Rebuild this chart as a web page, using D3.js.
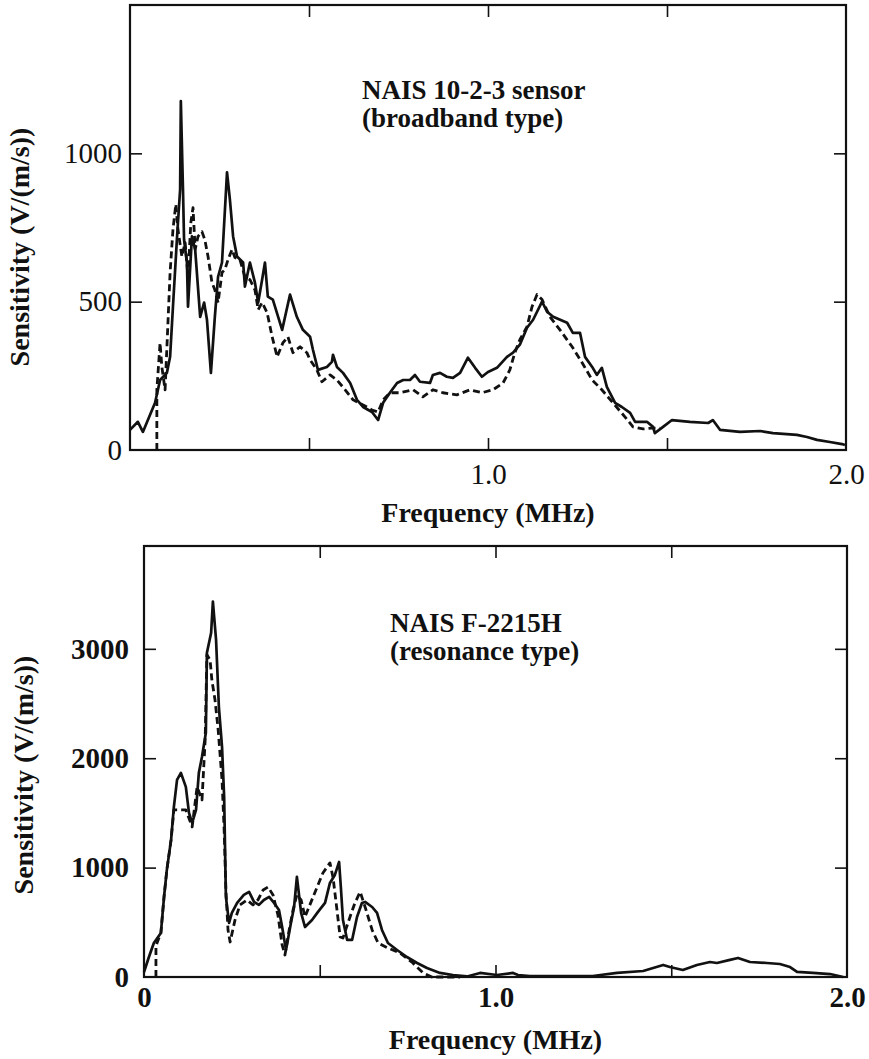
<!DOCTYPE html>
<html>
<head>
<meta charset="utf-8">
<script src="https://cdn.jsdelivr.net/npm/d3@7"></script>
<style>
  body { margin: 0; background: #fff; }
  svg text { font-family: "Liberation Serif", "Times New Roman", serif; fill: #111; }
</style>
</head>
<body>
<script>
// [frequency MHz, sensitivity V/(m/s)]
const broadbandSolid = [[0.000,68],[0.022,95],[0.036,61],[0.070,159],[0.084,236],[0.103,260],[0.112,314],[0.120,483],[0.131,709],[0.134,767],[0.140,878],[0.142,1176],[0.148,878],[0.151,709],[0.159,632],[0.162,483],[0.173,720],[0.182,676],[0.196,449],[0.207,497],[0.215,439],[0.226,260],[0.237,449],[0.246,584],[0.257,632],[0.271,936],[0.279,845],[0.288,720],[0.299,652],[0.316,632],[0.321,551],[0.335,632],[0.349,564],[0.358,497],[0.369,574],[0.377,632],[0.385,517],[0.399,507],[0.425,405],[0.447,524],[0.466,449],[0.483,405],[0.503,382],[0.511,338],[0.525,270],[0.550,280],[0.564,297],[0.567,321],[0.578,280],[0.595,260],[0.615,226],[0.634,169],[0.651,145],[0.676,128],[0.693,101],[0.707,159],[0.726,193],[0.746,226],[0.763,236],[0.782,236],[0.796,253],[0.810,230],[0.838,226],[0.846,253],[0.866,260],[0.885,247],[0.902,243],[0.922,260],[0.944,311],[0.964,277],[0.983,247],[1.000,263],[1.025,277],[1.053,314],[1.070,328],[1.089,355],[1.109,412],[1.126,439],[1.151,500],[1.165,466],[1.182,449],[1.221,429],[1.237,395],[1.257,395],[1.271,314],[1.291,280],[1.304,253],[1.318,277],[1.332,213],[1.355,159],[1.374,145],[1.397,125],[1.411,95],[1.444,95],[1.461,78],[1.466,57],[1.489,78],[1.514,101],[1.564,95],[1.615,91],[1.628,101],[1.648,68],[1.704,61],[1.760,64],[1.796,57],[1.863,51],[1.891,44],[1.919,34],[1.955,27],[1.989,20],[1.997,17]];

const broadbandDashed = [[0.075,0],[0.075,203],[0.084,361],[0.089,280],[0.098,203],[0.106,429],[0.112,598],[0.120,743],[0.128,828],[0.134,743],[0.145,652],[0.154,699],[0.162,584],[0.170,767],[0.176,817],[0.182,676],[0.190,720],[0.201,736],[0.209,709],[0.218,652],[0.229,564],[0.237,540],[0.246,497],[0.257,598],[0.265,608],[0.274,642],[0.285,676],[0.293,649],[0.307,642],[0.321,584],[0.335,574],[0.349,540],[0.358,473],[0.369,497],[0.383,463],[0.397,382],[0.411,314],[0.427,361],[0.441,382],[0.455,328],[0.475,348],[0.494,328],[0.503,304],[0.522,270],[0.536,230],[0.559,253],[0.578,236],[0.601,203],[0.623,169],[0.651,152],[0.676,135],[0.693,128],[0.707,169],[0.726,193],[0.754,193],[0.791,203],[0.818,179],[0.846,203],[0.874,193],[0.913,186],[0.950,203],[0.983,193],[1.014,203],[1.042,226],[1.061,270],[1.075,328],[1.089,372],[1.109,416],[1.123,483],[1.137,524],[1.151,507],[1.173,449],[1.201,405],[1.235,348],[1.263,294],[1.291,236],[1.318,203],[1.349,159],[1.383,111],[1.405,78],[1.433,71],[1.458,74],[1.480,74]];

const resonanceSolid = [[0.000,46],[0.014,183],[0.028,311],[0.048,402],[0.057,732],[0.065,979],[0.077,1253],[0.085,1555],[0.094,1802],[0.105,1866],[0.119,1738],[0.128,1500],[0.137,1409],[0.148,1528],[0.156,1866],[0.165,2013],[0.176,2232],[0.179,2964],[0.191,3147],[0.196,3431],[0.205,3083],[0.213,2470],[0.222,2104],[0.228,1647],[0.233,732],[0.242,494],[0.250,586],[0.265,677],[0.284,750],[0.299,778],[0.313,686],[0.327,659],[0.341,704],[0.356,732],[0.370,677],[0.384,613],[0.393,457],[0.404,247],[0.418,494],[0.427,640],[0.435,915],[0.447,586],[0.458,457],[0.478,521],[0.495,595],[0.515,677],[0.529,860],[0.543,933],[0.555,1052],[0.560,823],[0.566,521],[0.578,339],[0.592,339],[0.606,549],[0.620,677],[0.629,686],[0.649,640],[0.663,586],[0.677,430],[0.694,311],[0.720,247],[0.748,183],[0.777,128],[0.805,82],[0.842,37],[0.879,18],[0.919,5],[0.956,37],[1.004,18],[1.050,37],[1.064,18],[1.098,9],[1.192,9],[1.277,9],[1.346,37],[1.420,55],[1.477,110],[1.496,91],[1.533,64],[1.573,110],[1.610,137],[1.630,128],[1.667,156],[1.690,174],[1.724,137],[1.772,128],[1.809,119],[1.838,91],[1.858,46],[1.903,37],[1.952,27],[1.989,0]];

const resonanceDashed = [[0.034,0],[0.034,274],[0.037,311],[0.048,402],[0.057,732],[0.065,979],[0.077,1253],[0.085,1528],[0.119,1528],[0.137,1372],[0.151,1738],[0.165,1619],[0.174,2168],[0.179,2946],[0.188,2900],[0.193,2717],[0.202,2534],[0.211,2260],[0.222,1802],[0.228,1345],[0.233,796],[0.239,430],[0.245,320],[0.259,522],[0.273,659],[0.293,704],[0.310,659],[0.324,704],[0.339,796],[0.353,823],[0.367,750],[0.381,567],[0.393,293],[0.401,201],[0.413,430],[0.424,613],[0.435,750],[0.447,704],[0.458,549],[0.481,732],[0.509,951],[0.529,1043],[0.538,906],[0.549,613],[0.558,366],[0.566,357],[0.586,549],[0.600,677],[0.615,778],[0.629,640],[0.649,430],[0.666,311],[0.694,265],[0.728,220],[0.765,128],[0.794,37],[0.819,0],[0.899,0]];

const xTicks = [0.5, 1.0, 1.5];
const topXLabels = [1.0, 2.0];
const bottomXLabels = [0, 1.0, 2.0];
const topYTicks = [500, 1000];
const topYLabels = [0, 500, 1000];
const bottomYTicks = [1000, 2000, 3000];
const bottomYLabels = [0, 1000, 2000, 3000];

const width = 869, height = 1059;

const svg = d3.select("body")
  .append("svg")
  .attr("width", width)
  .attr("height", height);

function drawPanel(p) {
  const x = d3.scaleLinear().domain([0, 2]).range([p.left, p.right]);
  const y = d3.scaleLinear().domain([0, p.yMax]).range([p.bottom, p.top]);
  const g = svg.append("g");

  // inward ticks, all four sides
  const tick = (axis, tx, ty) => g.append("g")
    .attr("transform", `translate(${tx},${ty})`)
    .call(axis.tickSize(-12).tickFormat(""))
    .call(s => s.select(".domain").remove())
    .selectAll("line").attr("stroke", "#111").attr("stroke-width", 1.6);

  tick(d3.axisBottom(x).tickValues(xTicks), 0, p.bottom);
  tick(d3.axisTop(x).tickValues(xTicks), 0, p.top);
  tick(d3.axisLeft(y).tickValues(p.yTicks), p.left, 0);
  tick(d3.axisRight(y).tickValues(p.yTicks), p.right, 0);

  // tick labels
  const xLab = g.append("g")
    .attr("transform", `translate(0,${p.bottom})`)
    .call(d3.axisBottom(x).tickValues(p.xLabels).tickSize(0).tickPadding(p.xPad)
      .tickFormat(d => d === 0 ? "0" : d3.format(".1f")(d)));
  xLab.select(".domain").remove();
  xLab.attr("font-family", null).attr("font-size", null);
  xLab.selectAll("text").style("font-size", "29px").style("font-weight", p.tickWeight);

  const yLab = g.append("g")
    .attr("transform", `translate(${p.left},0)`)
    .call(d3.axisLeft(y).tickValues(p.yLabels).tickSize(0).tickPadding(p.yPad)
      .tickFormat(d3.format("d")));
  yLab.select(".domain").remove();
  yLab.attr("font-family", null).attr("font-size", null);
  yLab.selectAll("text").style("font-size", "29px").style("font-weight", p.tickWeight);

  // frame
  g.append("rect")
    .attr("x", p.left).attr("y", p.top)
    .attr("width", p.right - p.left).attr("height", p.bottom - p.top)
    .attr("fill", "none").attr("stroke", "#111").attr("stroke-width", 2.2);

  const line = d3.line().x(d => x(d[0])).y(d => y(d[1]));

  g.append("path")
    .datum(p.dashed)
    .attr("d", line)
    .attr("fill", "none").attr("stroke", "#111")
    .attr("stroke-width", 2.8).attr("stroke-dasharray", "7,4")
    .attr("stroke-linejoin", "round");

  g.append("path")
    .datum(p.solid)
    .attr("d", line)
    .attr("fill", "none").attr("stroke", "#111")
    .attr("stroke-width", 2.7).attr("stroke-linejoin", "round");

  // axis titles
  g.append("text")
    .attr("x", (p.left + p.right) / 2).attr("y", p.xTitleY)
    .attr("text-anchor", "middle")
    .style("font-size", "28px").style("font-weight", "bold")
    .text("Frequency (MHz)");

  g.append("text")
    .attr("transform", `translate(${p.yTitleX},${p.yTitleY}) rotate(-90)`)
    .attr("text-anchor", "middle")
    .style("font-size", "28px").style("font-weight", "bold")
    .text("Sensitivity (V/(m/s))");

  // sensor name
  p.note.forEach((t, i) => {
    g.append("text")
      .attr("x", p.noteX).attr("y", p.noteY + i * p.noteGap)
      .style("font-size", "27px").style("font-weight", "bold")
      .text(t);
  });
}

drawPanel({
  left: 130, right: 846, top: 5, bottom: 450, yMax: 1500,
  yTicks: topYTicks, yLabels: topYLabels, xLabels: topXLabels,
  xPad: 13, yPad: 8, tickWeight: "normal",
  solid: broadbandSolid, dashed: broadbandDashed,
  xTitleY: 522, yTitleX: 29, yTitleY: 247,
  note: ["NAIS 10-2-3 sensor", "(broadband type)"], noteX: 362, noteY: 99, noteGap: 28
});

drawPanel({
  left: 144, right: 847, top: 546, bottom: 977, yMax: 3940,
  yTicks: bottomYTicks, yLabels: bottomYLabels, xLabels: bottomXLabels,
  xPad: 9, yPad: 15, tickWeight: "bold",
  solid: resonanceSolid, dashed: resonanceDashed,
  xTitleY: 1049, yTitleX: 33, yTitleY: 775,
  note: ["NAIS F-2215H", "(resonance type)"], noteX: 390, noteY: 632, noteGap: 28
});
</script>
</body>
</html>
